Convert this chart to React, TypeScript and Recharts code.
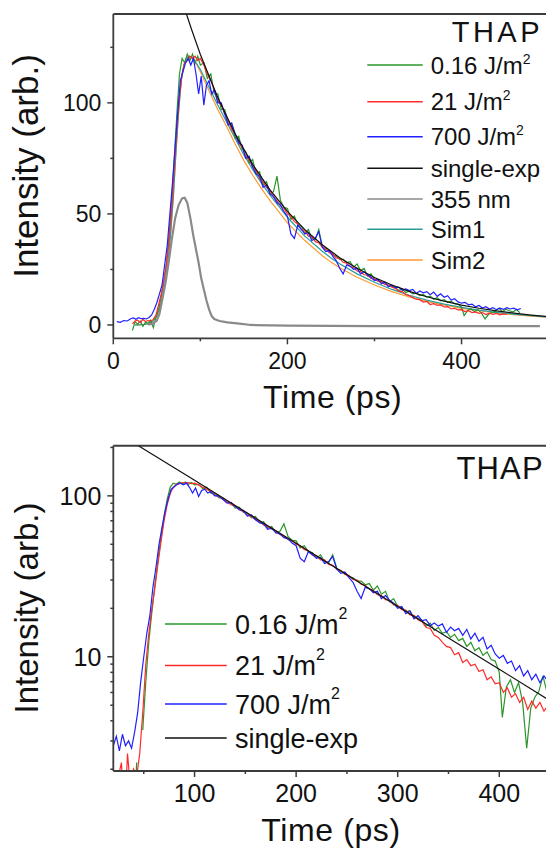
import React from 'react';
import { LineChart, Line, XAxis, YAxis, ReferenceLine } from 'recharts';

type P = [number, number];

// ---------- data (time in ps, intensity arb.) ----------
const green016: P[] = [
  [22,-2.5],[25,1.5],[28,0.4],[31,1.8],[34,-0.6],[37,1.2],[40,0.8],[43,2.2],[46,-1.2],[49,3.5],[52,7],[55,12.5],[58,19],[61,28],[64,40],[67,56],[70,75],[73,95],[76,113],[79,120],[82,118],[85,122],[88,119],[91,122],[94,118],[97,121],[100,117],
  [104,118],[108,111],[112,113],[116,104],[120,104],[124,97],[128,97],[132,91],[136,90],[140,84],[144,85],[148,79],[152,78],[156,73],[160,74.5],[164,68],[168,69],[172,63],[176,64.5],[180,59],[184,60],[188,67],[192,56],[196,53],[200,52.5],
  [204,47.5],[208,49],[212,45],[216,44.5],[220,41],[224,43],[228,39],[232,38.5],[236,43],[240,35.5],[244,34],[248,33.5],[252,31.5],[256,31],[260,29.5],[264,29.5],[268,28],[272,28.5],[276,26],[280,27.5],[284,24.5],[288,25.5],[292,22],[296,23],[300,20.5],
  [304,20.3],[308,19],[312,19.3],[316,17.5],[320,17.4],[324,16.8],[328,15.5],[332,16.2],[336,14.6],[340,15.2],[344,14],[348,14.3],[352,13.2],[356,13.8],[360,12.6],[364,13],[368,11.6],[372,12.3],[376,10.9],[380,11.4],[384,10.2],[388,10.7],[392,9.6],[396,9.4],[400,8.0],
  [403,4.2],[407,6.5],[411,7.2],[415,6.0],[419,6.9],[423,5.2],[427,2.7],[431,4.8],[435,5.6],[439,6.1],[443,7.6],[447,6.0],[451,7.1],[455,6.4],[459,5.8],[463,7.0],[467,5.5],
];

const red21: P[] = [
  [22,0.5],[25,1.8],[28,2.2],[31,1.0],[34,2.5],[37,1.5],[40,2.0],[43,1.8],[46,2.5],[49,4.5],[52,9],[55,14],[58,20],[61,27],[64,38],[67,52],[70,70],[73,88],[76,103],[79,113],[82,118],[85,119],[88,121],[91,120],[94,121],[97,119],[100,120],
  [104,117],[108,113],[112,110],[116,106],[120,101],[124,99],[128,95],[132,92],[136,88],[140,86],[144,82],[148,80],[152,76],[156,74.5],[160,71],[164,69.5],[168,66],[172,64.5],[176,62],[180,60.5],[184,57.5],[188,56],[192,53.5],[196,52.5],[200,50],
  [204,49],[208,46.5],[212,45.5],[216,43],[220,42.5],[224,40],[228,40],[232,37.5],[236,37],[240,35],[244,34.5],[248,32.5],[252,32],[256,30.2],[260,30],[264,28.2],[268,27.8],[272,26.3],[276,25.8],[280,24.3],[284,24],[288,22.6],[292,22.4],[296,21],[300,20.9],
  [304,19.6],[308,19.5],[312,18.2],[316,18.1],[320,17],[324,16.5],[328,15.2],[332,15],[336,13.6],[340,13.2],[344,12.3],[348,11.6],[352,11.4],[356,10.3],[360,10.6],[364,9.2],[368,9.6],[372,8.8],[376,9.0],[380,8.1],[384,8.3],[388,7.2],[392,7.5],[396,6.8],[400,6.9],
  [404,6.0],[408,6.4],[412,5.6],[416,5.9],[420,5.2],[424,5.6],[428,4.7],[432,5.3],[436,4.8],[440,5.2],[444,4.6],[448,5.0],[452,4.7],
];

const blue700: P[] = [
  [4,1.5],[8,1.2],[12,2.0],[16,1.8],[20,2.8],[23,3.2],[26,2.6],[29,3.3],[32,2.8],[35,3.0],[38,2.7],[41,3.4],[44,4.5],[47,7],[50,10],[53,14],[56,18],[59,27],[62,36],[65,50],[68,64],[71,80],[74,96],[77,110],[80,114],[83,118],[86,120],[89,117],[92,120],[95,113],[98,104],
  [101,112],[104,99],[107,108],[110,110],[113,104],[116,106],[120,100],[124,100],[128,95],[132,90],[136,91],[140,86],[144,82],[148,81],[152,75],[156,76],[160,71],[164,68],[168,67],[172,62],[176,63],[180,59],[184,58],[188,55],[192,54],[196,51],[200,49],
  [204,41],[208,39],[212,45],[216,43],[220,41],[224,41.5],[228,38],[232,39],[236,42],[240,35],[244,33],[248,33.5],[252,31],[256,29],[260,25.5],[264,23],[268,27],[272,26.5],[276,25],[280,25.5],[284,23],[288,24],[292,22.5],[296,21.5],[300,20],
  [304,20.5],[308,18.5],[312,19.2],[316,17.2],[320,18],[324,16.8],[328,17],[332,15.6],[336,16.2],[340,15.5],[344,16],[348,14.2],[352,15.3],[356,14.5],[360,15],[364,13.6],[368,14.8],[372,12.9],[376,14],[380,12.5],[384,13.2],[388,11.2],[392,11.8],[396,10.4],[400,9.8],
  [404,10.2],[408,9.1],[412,9.4],[416,8.2],[420,8.8],[424,7.6],[428,8.2],[432,7.2],[436,7.8],[440,6.9],[444,7.6],[448,7.0],[452,7.8],[456,7.2],[460,7.6],[464,6.8],[468,7.4],
];

const singleExpLin: P[] = [
  [84,140],[90,132.9],[100,121.8],[120,102.4],[140,86],[160,72.3],[180,60.8],[200,51.1],[220,42.9],[240,36.1],[260,30.3],[280,25.5],[300,21.4],[320,18],[340,15.1],[360,12.7],[380,10.7],[400,8.97],[420,7.54],[440,6.33],[460,5.32],[480,4.47],[500,3.76],
];

const singleExpLog: P[] = [
  [44.7,205],[100,124.9],[150,79.6],[200,50.7],[250,32.3],[300,20.6],[350,13.1],[400,8.37],[450,5.33],
];

const laser355: P[] = [
  [40,0.3],[45,0.5],[50,2],[53,5],[56,11],[60,19],[63.5,28],[67,38],[71,48],[75,54],[79,57],[82,57.3],[85,55],[88.6,48],[92,40],[95,34],[98,28],[101,21],[104,16],[107,11],[110,7],[113,4],[116,2.7],[122,1.8],[131,1.2],[145,0.6],[158,0],[200,-0.3],[300,-0.5],[400,-0.5],[490,-0.5],
];

const sim1: P[] = [
  [25,0],[30,0],[35,0.2],[40,0.5],[45,1.5],[50,4],[55,10],[60,20],[63,29],[66,42],[69,58],[72,78],[75,96],[78,110],[81,117],[84,120],[87,121],[90,120.5],[93,119],[96,117.5],[100,115],
  [110,107],[120,99],[130,91.5],[140,84],[150,76.5],[160,70],[170,64],[180,58.5],[190,53.5],[200,48.5],[220,40],[240,33.2],[250,30.2],[260,27.6],[280,23],[300,19.2],[320,16],[340,13.4],[360,11.2],[380,9.4],[400,7.9],[420,6.7],[440,5.7],[460,4.9],[480,4.2],[500,3.6],
];

const sim2: P[] = [
  [25,0],[30,0],[35,0.2],[40,0.5],[45,1.5],[50,4],[55,10],[60,20],[63,29],[66,42],[69,58],[72,78],[75,96],[78,110],[81,117],[84,120],[87,121],[90,120.5],[93,119],[96,117],[100,114],
  [110,105.5],[120,97],[130,89.5],[140,81.5],[150,74],[160,67.5],[170,61.5],[180,56],[190,51],[200,46],[220,38],[240,31.2],[250,28.3],[260,25.8],[280,21.5],[300,18],[320,15],[340,12.6],[360,10.6],[380,8.9],[400,7.5],[420,6.4],[440,5.4],[460,4.6],[480,4.0],[500,3.4],
];

const topXTicks = [0, 100, 200, 300, 400];
const topXLabels = [0, 200, 400];
const topYTicks = [0, 25, 50, 75, 100, 125];
const topYLabels = [0, 50, 100];
const logXTicks = [50, 100, 150, 200, 250, 300, 350, 400];
const logXLabels = [100, 200, 300, 400];
const logYTicks = [2, 3, 4, 5, 6, 7, 8, 9, 10, 20, 30, 40, 50, 60, 70, 80, 90, 100, 200];
const logYLabels = [10, 100];

const topLegend = [
  { label: '0.16 J/m', sup: '2', color: '#2a962a' },
  { label: '21 J/m', sup: '2', color: '#ff2a2a' },
  { label: '700 J/m', sup: '2', color: '#2020ff' },
  { label: 'single-exp', sup: '', color: '#111111' },
  { label: '355 nm', sup: '', color: '#8a8a8a' },
  { label: 'Sim1', sup: '', color: '#2a9c9c' },
  { label: 'Sim2', sup: '', color: '#ff9933' },
];
const bottomLegend = topLegend.slice(0, 4);

// ---------- styles ----------
const FONT = '"Liberation Sans", Arial, Helvetica, sans-serif';
const AXIS = '#3c3c3c';
const C = {
  green: '#2a962a', red: '#ff2a2a', blue: '#2020ff', black: '#111111',
  gray: '#8a8a8a', teal: '#2a9c9c', orange: '#ff9933',
};

const toPts = (a: P[]) => a.map(([t, v]) => ({ t, v }));
const toLogPts = (a: P[]) => a.map(([t, v]) => ({ t, v: v > 0 ? v : null }));

function BottomTick(props: any) {
  const { x, y, payload, labels, fontSize, gap } = props;
  const v = payload.value;
  const major = labels.includes(v);
  return (
    <g>
      <line x1={x} x2={x} y1={y} y2={y + (major ? 6 : 3)} stroke={AXIS} strokeWidth={1.5} />
      {major && (
        <text x={x} y={y + gap} textAnchor="middle" fontSize={fontSize} fontFamily={FONT} fill="#111">{v}</text>
      )}
    </g>
  );
}

function LeftTick(props: any) {
  const { x, y, payload, labels, fontSize } = props;
  const v = payload.value;
  const major = labels.includes(v);
  return (
    <g>
      <line x1={x} x2={x - (major ? 6 : 3)} y1={y} y2={y} stroke={AXIS} strokeWidth={1.5} />
      {major && (
        <text x={x - 12} y={y + fontSize * 0.36} textAnchor="end" fontSize={fontSize} fontFamily={FONT} fill="#111">{v}</text>
      )}
    </g>
  );
}

const lineProps = { type: 'linear' as const, dataKey: 'v', dot: false, activeDot: false, isAnimationActive: false, strokeWidth: 1.2 };

function TopChart() {
  return (
    <LineChart width={546} height={420} margin={{ top: 14, right: 0, bottom: 51.7, left: 0 }}>
      <XAxis type="number" dataKey="t" domain={[0, 497]} ticks={topXTicks} interval={0} allowDataOverflow
        tickSize={0} tickMargin={0} tickLine={false} height={30}
        axisLine={{ stroke: AXIS, strokeWidth: 1.8 }}
        tick={<BottomTick labels={topXLabels} fontSize={23} gap={30.5} />} />
      <YAxis type="number" domain={[-6, 140]} ticks={topYTicks} interval={0} allowDataOverflow width={113.3}
        tickSize={0} tickMargin={0} tickLine={false}
        axisLine={{ stroke: AXIS, strokeWidth: 1.8 }}
        tick={<LeftTick labels={topYLabels} fontSize={23} />} />
      <ReferenceLine y={140} stroke={AXIS} strokeWidth={2} />
      <Line {...lineProps} data={toPts(sim2)} stroke={C.orange} name="Sim2" />
      <Line {...lineProps} data={toPts(sim1)} stroke={C.teal} name="Sim1" />
      <Line {...lineProps} data={toPts(green016)} stroke={C.green} name="0.16 J/m2" />
      <Line {...lineProps} data={toPts(red21)} stroke={C.red} name="21 J/m2" />
      <Line {...lineProps} data={toPts(blue700)} stroke={C.blue} name="700 J/m2" />
      <Line {...lineProps} data={toPts(singleExpLin)} stroke={C.black} name="single-exp" />
      <Line {...lineProps} data={toPts(laser355)} stroke={C.gray} strokeWidth={2.2} name="355 nm" />
    </LineChart>
  );
}

function BottomChart() {
  return (
    <LineChart width={546} height={429} margin={{ top: 25.7, right: 0, bottom: 48, left: 0 }}>
      <XAxis type="number" dataKey="t" domain={[20, 446]} ticks={logXTicks} interval={0} allowDataOverflow
        tickSize={0} tickMargin={0} tickLine={false} height={30}
        axisLine={{ stroke: AXIS, strokeWidth: 1.8 }}
        tick={<BottomTick labels={logXLabels} fontSize={25} gap={30.5} />} />
      <YAxis type="number" scale="log" domain={[1.95, 205]} ticks={logYTicks} interval={0} allowDataOverflow width={113.3}
        tickSize={0} tickMargin={0} tickLine={false}
        axisLine={{ stroke: AXIS, strokeWidth: 1.8 }}
        tick={<LeftTick labels={logYLabels} fontSize={25} />} />
      <ReferenceLine y={205} stroke={AXIS} strokeWidth={2} />
      <Line {...lineProps} data={toLogPts(green016)} stroke={C.green} name="0.16 J/m2" />
      <Line {...lineProps} data={toLogPts(red21)} stroke={C.red} name="21 J/m2" />
      <Line {...lineProps} data={toLogPts(blue700)} stroke={C.blue} name="700 J/m2" />
      <Line {...lineProps} data={toPts(singleExpLog)} stroke={C.black} name="single-exp" />
    </LineChart>
  );
}

function Overlay() {
  const topRows = [65, 101.7, 136.7, 168.3, 199, 229.3, 260];
  const botRows = [624, 665.5, 704, 738];
  return (
    <svg width={546} height={849} style={{ position: 'absolute', left: 0, top: 0, pointerEvents: 'none' }} fontFamily={FONT}>
      <text x={451.7} y={41.7} fontSize={29} letterSpacing={3.5} fill="#111">THAP</text>
      <text x={456.4} y={479.3} fontSize={31} letterSpacing={1.2} fill="#111">THAP</text>

      <text transform="translate(38,166) rotate(-90)" textAnchor="middle" fontSize={35} fill="#111">Intensity (arb.)</text>
      <text transform="translate(38,608) rotate(-90)" textAnchor="middle" fontSize={33} fill="#111">Intensity (arb.)</text>
      <text x={332.7} y={408.3} textAnchor="middle" fontSize={32} letterSpacing={0.6} fill="#111">Time (ps)</text>
      <text x={331} y={841} textAnchor="middle" fontSize={32} letterSpacing={0.6} fill="#111">Time (ps)</text>

      {topLegend.map((e, i) => (
        <g key={'t' + i}>
          <line x1={367.3} x2={422.7} y1={topRows[i]} y2={topRows[i]} stroke={e.color} strokeWidth={1.6} />
          <text x={430.7} y={topRows[i] + 8.6} fontSize={24} fill="#111">
            {e.label}
            {e.sup && <tspan fontSize={14} dy={-10}>{e.sup}</tspan>}
          </text>
        </g>
      ))}
      {bottomLegend.map((e, i) => (
        <g key={'b' + i}>
          <line x1={165} x2={226.7} y1={botRows[i]} y2={botRows[i]} stroke={e.color} strokeWidth={1.6} />
          <text x={235} y={botRows[i] + 9.7} fontSize={27} fill="#111">
            {e.label}
            {e.sup && <tspan fontSize={16} dy={-15}>{e.sup}</tspan>}
          </text>
        </g>
      ))}
    </svg>
  );
}

export default function App() {
  return (
    <div style={{ position: 'absolute', left: 0, top: 0, width: 546, height: 849, overflow: 'hidden', background: '#fff' }}>
      <div style={{ position: 'absolute', left: 0, top: 0 }}>
        <TopChart />
      </div>
      <div style={{ position: 'absolute', left: 0, top: 420 }}>
        <BottomChart />
      </div>
      <Overlay />
    </div>
  );
}
